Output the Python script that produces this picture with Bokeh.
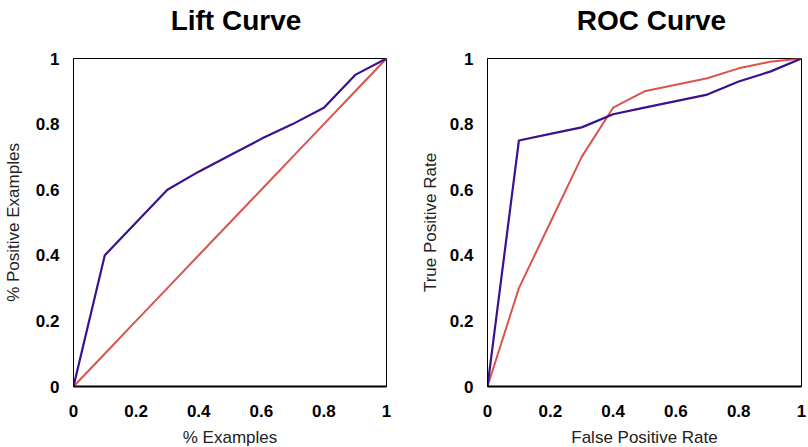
from bokeh.plotting import figure
from bokeh.layouts import row
from bokeh.models import Range1d, FixedTicker
from bokeh.embed import file_html
from bokeh.resources import INLINE

# ---- data ----
tick_values = [0, 0.2, 0.4, 0.6, 0.8, 1]
tick_labels = ["0", "0.2", "0.4", "0.6", "0.8", "1"]

lift_x = [0, 0.1, 0.2, 0.3, 0.4, 0.5, 0.6, 0.7, 0.8, 0.9, 1.0]
lift_model = [0, 0.40, 0.50, 0.60, 0.655, 0.705, 0.755, 0.80, 0.85, 0.95, 1.0]
lift_random = [0, 0.1, 0.2, 0.3, 0.4, 0.5, 0.6, 0.7, 0.8, 0.9, 1.0]

roc_fpr = [0, 0.1, 0.2, 0.3, 0.4, 0.5, 0.6, 0.7, 0.8, 0.9, 1.0]
roc_model_a = [0, 0.75, 0.77, 0.79, 0.83, 0.85, 0.87, 0.89, 0.93, 0.96, 1.0]
roc_model_b = [0, 0.30, 0.50, 0.70, 0.85, 0.90, 0.92, 0.94, 0.97, 0.99, 1.0]

BLUE = "#3a118e"
RED = "#d9534f"
FONT = "Liberation Sans"


def make_fig(title, xlabel, ylabel, width, fw, fh, bl, br, tick_so, label_so, shift):
    p = figure(width=width, height=439, frame_width=fw, frame_height=fh,
               x_range=Range1d(0, 1), y_range=Range1d(0, 1),
               output_backend="svg", toolbar_location=None,
               min_border_left=bl, min_border_right=br,
               title=title)
    p.title.text_font = FONT
    p.title.text_font_size = "28px"
    p.title.text_font_style = "bold"
    p.title.text_color = "black"
    p.title.align = "center"
    p.title.standoff = 4
    p.title.padding = dict(left=shift, right=0, top=0, bottom=21)
    p.grid.visible = False
    p.outline_line_color = "black"
    p.outline_line_width = 1
    p.background_fill_color = "white"
    p.border_fill_color = "white"
    overrides = {v: l for v, l in zip(tick_values, tick_labels)}
    for ax in (p.xaxis[0], p.yaxis[0]):
        ax.ticker = FixedTicker(ticks=tick_values)
        ax.major_label_overrides = overrides
        ax.major_tick_line_color = None
        ax.minor_tick_line_color = None
        ax.major_label_text_font = FONT
        ax.major_label_text_font_style = "bold"
        ax.major_label_text_font_size = "17px"
        ax.major_label_text_color = "black"
        ax.axis_label_text_font = FONT
        ax.axis_label_text_font_style = "normal"
        ax.axis_label_text_font_size = "17px"
        ax.axis_label_text_color = "#222222"
        ax.axis_line_color = "black"
    p.xaxis.axis_label = xlabel
    p.yaxis.axis_label = ylabel
    p.xaxis.axis_line_width = 2
    p.xaxis.major_label_standoff = 12
    p.xaxis.axis_label_standoff = 8
    p.yaxis.major_label_standoff = tick_so
    p.yaxis.axis_label_standoff = label_so
    return p


p1 = make_fig("Lift Curve", "% Examples", "% Positive Examples",
              409, 313, 328, 65, 31, 8, 10, 12)
p1.line(lift_x, lift_random, line_color=RED, line_width=2)
p1.line(lift_x, lift_model, line_color=BLUE, line_width=2.2)

p2 = make_fig("ROC Curve", "False Positive Rate", "True Positive Rate",
              383, 314, 328, 62, 7, 8, 7, 14)
p2.line(roc_fpr, roc_model_b, line_color=RED, line_width=2)
p2.line(roc_fpr, roc_model_a, line_color=BLUE, line_width=2.2)

layout = row(p1, p2, spacing=0)
open("out.html", "w").write(file_html(layout, INLINE))
